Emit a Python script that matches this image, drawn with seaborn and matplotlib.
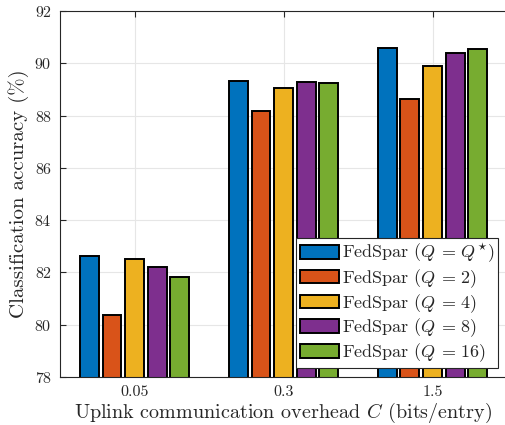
import pandas as pd
import matplotlib
matplotlib.use("Agg")
import matplotlib.pyplot as plt
import seaborn as sns

# data
overheads = ["0.05", "0.3", "1.5"]
series = [r"FedSpar ($Q\, =\, Q^{\star}$)", r"FedSpar ($Q\, =\, 2$)", r"FedSpar ($Q\, =\, 4$)",
          r"FedSpar ($Q\, =\, 8$)", r"FedSpar ($Q\, =\, 16$)"]
acc_qstar = [82.63, 89.32, 90.58]
acc_q2 = [80.37, 88.17, 88.63]
acc_q4 = [82.51, 89.05, 89.90]
acc_q8 = [82.20, 89.28, 90.38]
acc_q16 = [81.82, 89.25, 90.55]
colors = ["#0072BD", "#D95319", "#EDB120", "#7E2F8E", "#77AC30"]

rows = []
for name, vals in zip(series, [acc_qstar, acc_q2, acc_q4, acc_q8, acc_q16]):
    for c, v in zip(overheads, vals):
        rows.append({"C": c, "acc": v, "method": name})
df = pd.DataFrame(rows)

sns.set_style("whitegrid")
plt.rcParams["font.family"] = "serif"
plt.rcParams["font.serif"] = ["cmr10"]
plt.rcParams["mathtext.fontset"] = "cm"
plt.rcParams["axes.formatter.use_mathtext"] = True

fig = plt.figure(figsize=(5.05, 4.25), dpi=100)
ax = fig.add_axes([0.119, 0.113, 0.885, 0.861])

sns.barplot(data=df, x="C", y="acc", hue="method", palette=colors, saturation=1,
            width=0.76, gap=0.17, edgecolor="black", linewidth=1.4, ax=ax)

ax.set_ylim(78, 92)
ax.set_xlim(-0.5, 2.5)
ax.set_yticks(range(78, 93, 2))
ax.grid(True, color="#e6e6e6", linewidth=0.8)
ax.set_axisbelow(True)
for s in ax.spines.values():
    s.set_color("#262626")
    s.set_linewidth(0.8)
ax.tick_params(direction="in", length=4, color="#262626", labelsize=11.5,
               top=True, left=True, bottom=True, labelcolor="#262626", pad=6)
ax.set_xlabel(r"Uplink communication overhead $C$ (bits/entry)", fontsize=14.5,
              color="#262626", labelpad=1)
ax.set_ylabel("Classification accuracy (%)", fontsize=15, color="#262626")

leg = ax.legend(loc="lower right", fontsize=13, handlelength=2.2, handleheight=0.8,
                handletextpad=0.15, labelspacing=0.12, borderpad=0.2,
                borderaxespad=0.5, fancybox=False, framealpha=1, edgecolor="#262626")
leg.get_frame().set_linewidth(0.8)

fig.savefig("out.png", dpi=100)
